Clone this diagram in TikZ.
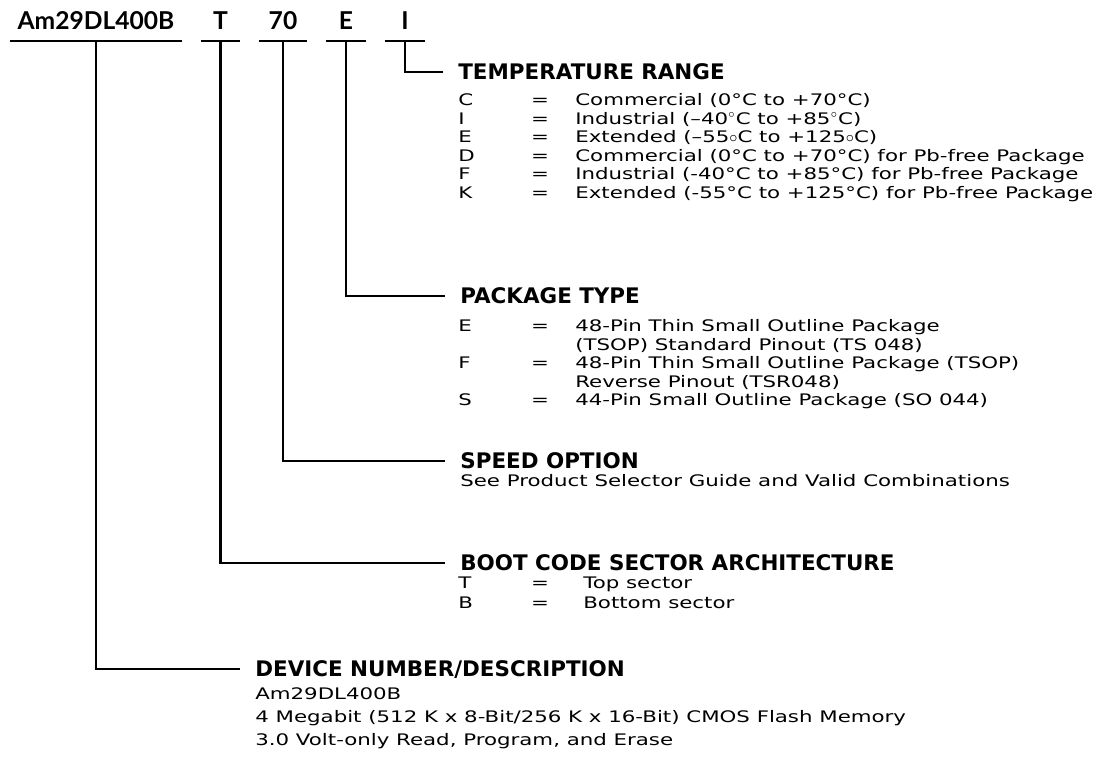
\documentclass[tikz,border=0pt]{standalone}
\usepackage{fontspec}
\setmainfont{DejaVu Sans}
\newfontfamily\bodyfont{DejaVu Sans}[FakeStretch=1.34]
\newfontfamily\partfont{Lato}
\usetikzlibrary{positioning,calc}

\tikzset{
  field/.style={font=\partfont\bfseries\fontsize{14}{16}\selectfont, minimum width=#1, inner xsep=0pt, inner ysep=0.22cm, text depth=0pt, anchor=south},
  head/.style={font=\bfseries\fontsize{12.2}{14}\selectfont, inner sep=0pt, text height=0.313cm, text depth=0pt, anchor=west},
  row/.style={font=\bodyfont\fontsize{9.05}{11}\selectfont, inner sep=0pt, text height=0.232cm, text depth=0pt, anchor=west},
  leader/.style={line width=1.2pt}
}

\begin{document}
\begin{tikzpicture}
        \useasboundingbox (0,0) rectangle (22.1,-15.2);

        % Part number fields
        \node[field=3.44cm] (num) at (1.92,-0.82) {Am29DL400B};
        \node[field=0.78cm] (boot) at (4.41,-0.82) {T};
        \node[field=0.96cm] (speed) at (5.66,-0.82) {70};
        \node[field=0.8cm] (pkg) at (6.92,-0.82) {E};
        \node[field=0.8cm] (temp) at (8.1,-0.82) {I};

        % Underlines below the fields
        \foreach \f in {num,boot,speed,pkg,temp}
            \draw[leader] (\f.south west) -- (\f.south east);

        % Section headings
        \node[head] (temphead) at (9.16,-1.44) {TEMPERATURE RANGE};
        \node[head] (pkghead) at (9.2,-5.92) {PACKAGE TYPE};
        \node[head] (speedhead) at (9.2,-9.22) {SPEED OPTION};
        \node[head] (boothead) at (9.2,-11.26) {BOOT CODE SECTOR ARCHITECTURE};
        \node[head] (devhead) at (5.1,-13.38) {DEVICE NUMBER/DESCRIPTION};

        % Leaders from fields to headings
        \draw[leader] (temp.south) |- ([xshift=-0.3cm]temphead.west);
        \draw[leader] (pkg.south) |- ([xshift=-0.3cm]pkghead.west);
        \draw[leader] (speed.south) |- ([xshift=-0.3cm]speedhead.west);
        \draw[leader] (boot.south) |- ([xshift=-0.3cm]boothead.west);
        \draw[leader] (num.south) |- ([xshift=-0.3cm]devhead.west);

        % Temperature range codes
        \foreach \c/\t [count=\i] in {C/{Commercial (0°C to +70°C)},
                I/{Industrial (–40$^\circ$C to +85$^\circ$C)},
                E/{Extended (–55${\circ}$C to +125${\circ}$C)},
                D/{Commercial (0°C to +70°C) for Pb-free Package},
                F/{Industrial (-40°C to +85°C) for Pb-free Package},
                K/{Extended (-55°C to +125°C) for Pb-free Package}}
        {
            \node[row] (tcode\i) at (9.16,{-2.0-0.37*(\i-1)}) {\c};
            \node[row,anchor=center] (teq\i) at (10.8,{-2.0-0.37*(\i-1)}) {=};
            \node[row] (tdesc\i) at (11.5,{-2.0-0.37*(\i-1)}) {\t};
        }

        % Package type codes
        \node[row] (pcode1) at (9.16,-6.52) {E};
        \node[row,anchor=center] (peq1) at (10.8,-6.52) {=};
        \node[row] (pdesc1) at (11.5,-6.52) {48-Pin Thin Small Outline Package};
        \node[row] (pmore1) at (11.5,-6.89) {(TSOP) Standard Pinout (TS 048)};
        \node[row] (pcode2) at (9.16,-7.26) {F};
        \node[row,anchor=center] (peq2) at (10.8,-7.26) {=};
        \node[row] (pdesc2) at (11.5,-7.26) {48-Pin Thin Small Outline Package (TSOP)};
        \node[row] (pmore2) at (11.5,-7.63) {Reverse Pinout (TSR048)};
        \node[row] (pcode3) at (9.16,-8.0) {S};
        \node[row,anchor=center] (peq3) at (10.8,-8.0) {=};
        \node[row] (pdesc3) at (11.5,-8.0) {44-Pin Small Outline Package (SO 044)};

        % Speed option
        \node[row] (speeddesc) at (9.2,-9.62) {See Product Selector Guide and Valid Combinations};

        % Boot code sector architecture
        \node[row] (bcode1) at (9.16,-11.66) {T};
        \node[row,anchor=center] (beq1) at (10.8,-11.66) {=};
        \node[row] (bdesc1) at (11.66,-11.66) {Top sector};
        \node[row] (bcode2) at (9.16,-12.06) {B};
        \node[row,anchor=center] (beq2) at (10.8,-12.06) {=};
        \node[row] (bdesc2) at (11.66,-12.06) {Bottom sector};

        % Device number/description
        \node[row] (dev1) at (5.1,-13.88) {Am29DL400B};
        \node[row] (dev2) at (5.1,-14.34) {4 Megabit (512 K x 8-Bit/256 K x 16-Bit) CMOS Flash Memory};
        \node[row] (dev3) at (5.1,-14.80) {3.0 Volt-only Read, Program, and Erase};
\end{tikzpicture}
\end{document}
